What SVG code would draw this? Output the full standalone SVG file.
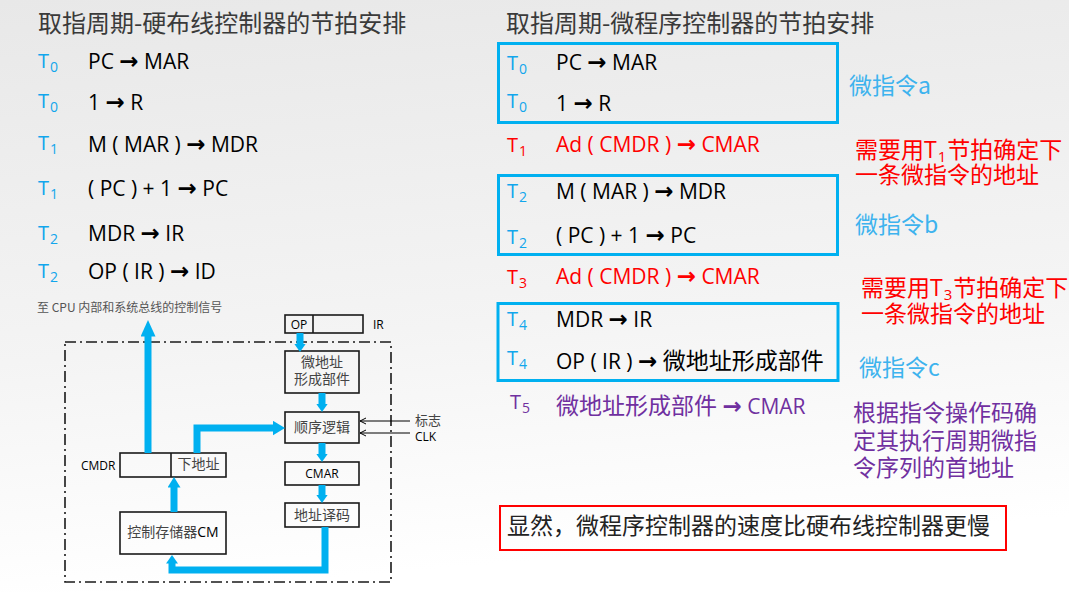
<svg xmlns="http://www.w3.org/2000/svg" width="1069" height="592" viewBox="0 0 1069 592">
<defs>
<linearGradient id="bg" x1="0" y1="0" x2="0.15" y2="1">
<stop offset="0" stop-color="#e8e8e8"/>
<stop offset="0.6" stop-color="#f4f4f4"/>
<stop offset="1" stop-color="#ffffff"/>
</linearGradient>
<marker id="hS" markerUnits="userSpaceOnUse" markerWidth="9" markerHeight="12" refX="0.5" refY="6" orient="auto">
<path d="M0,0 L8.5,6 L0,12 Z" fill="#00B0F0"/>
</marker>
<marker id="hM" markerUnits="userSpaceOnUse" markerWidth="11" markerHeight="13" refX="0.5" refY="6.5" orient="auto">
<path d="M0,0 L10.5,6.5 L0,13 Z" fill="#00B0F0"/>
</marker>
<marker id="hL" markerUnits="userSpaceOnUse" markerWidth="13" markerHeight="15" refX="0.5" refY="7.5" orient="auto">
<path d="M0,0 L12.5,7.5 L0,15 Z" fill="#00B0F0"/>
</marker>
<marker id="hB" markerUnits="userSpaceOnUse" markerWidth="17" markerHeight="15" refX="0.5" refY="7.5" orient="auto">
<path d="M0,0 L16.5,7.5 L0,15 Z" fill="#00B0F0"/>
</marker>
<marker id="hT" markerUnits="userSpaceOnUse" markerWidth="8" markerHeight="8" refX="6" refY="4" orient="auto">
<path d="M0,1 L6,4 L0,7" fill="none" stroke="#000" stroke-width="1"/>
</marker>
<style>
.title{font-family:"Noto Sans CJK SC",sans-serif;font-size:24px;fill:#3a3a3a}
.lt{font-family:"Open Sans","Noto Sans CJK SC",sans-serif;font-size:21px;fill:#000}
.tl{font-family:"Open Sans",sans-serif;font-size:20px;fill:#12A6EC}
.sub{font-size:14px}
.ar{font-family:"DejaVu Sans",sans-serif;font-weight:bold;font-size:23px}
.cj{font-family:"Noto Sans CJK SC",sans-serif;font-size:23px}
.red{fill:#FF0000}
.pur{fill:#7030A0}
.note{font-family:"Noto Sans CJK SC","Open Sans",sans-serif;font-size:23px}
.mi{fill:#3DB3EE}
.bbox{fill:none;stroke:#00B0F0;stroke-width:3}
.box{fill:none;stroke:#1a1a1a;stroke-width:1.6}
.bt{font-family:"Noto Sans CJK SC",sans-serif;font-size:14px;fill:#444;text-anchor:middle}
.bl{font-family:"Open Sans",sans-serif;font-size:12px;fill:#000}
.flow{fill:none;stroke:#00B0F0;stroke-width:7;stroke-linejoin:miter}
.thin{fill:none;stroke:#000;stroke-width:1}
</style>
</defs>
<rect x="0" y="0" width="1069" height="592" fill="url(#bg)"/>

<!-- titles -->
<text class="title" x="38" y="32">取指周期-硬布线控制器的节拍安排</text>
<text class="title" x="506" y="32">取指周期-微程序控制器的节拍安排</text>

<!-- left schedule -->
<g id="left-schedule">
<text class="tl" x="38" y="68">T<tspan class="sub" dx="1" dy="4">0</tspan></text>
<text class="lt" x="88" y="69">PC <tspan class="ar">→</tspan> MAR</text>
<text class="tl" x="38" y="108">T<tspan class="sub" dx="1" dy="4">0</tspan></text>
<text class="lt" x="88" y="110">1 <tspan class="ar">→</tspan> R</text>
<text class="tl" x="38" y="150">T<tspan class="sub" dx="1" dy="4">1</tspan></text>
<text class="lt" x="88" y="152">M ( MAR ) <tspan class="ar">→</tspan> MDR</text>
<text class="tl" x="38" y="195">T<tspan class="sub" dx="1" dy="4">1</tspan></text>
<text class="lt" x="88" y="196">( PC ) + 1 <tspan class="ar">→</tspan> PC</text>
<text class="tl" x="38" y="240">T<tspan class="sub" dx="1" dy="4">2</tspan></text>
<text class="lt" x="88" y="241">MDR <tspan class="ar">→</tspan> IR</text>
<text class="tl" x="38" y="278">T<tspan class="sub" dx="1" dy="4">2</tspan></text>
<text class="lt" x="88" y="279">OP ( IR ) <tspan class="ar">→</tspan> ID</text>
</g>

<!-- right schedule -->
<g id="right-schedule">
<rect id="micro-a" class="bbox" x="498.5" y="43.5" width="339" height="79"/>
<text class="tl" x="507" y="70">T<tspan class="sub" dx="1" dy="4">0</tspan></text>
<text class="lt" x="556" y="70">PC <tspan class="ar">→</tspan> MAR</text>
<text class="tl" x="507" y="108">T<tspan class="sub" dx="1" dy="4">0</tspan></text>
<text class="lt" x="556" y="111">1 <tspan class="ar">→</tspan> R</text>

<text class="tl red" x="507" y="152">T<tspan class="sub" dx="1" dy="4">1</tspan></text>
<text class="lt red" x="556" y="152">Ad ( CMDR ) <tspan class="ar">→</tspan> CMAR</text>

<rect id="micro-b" class="bbox" x="498.5" y="175.5" width="339" height="79"/>
<text class="tl" x="507" y="198">T<tspan class="sub" dx="1" dy="4">2</tspan></text>
<text class="lt" x="556" y="199">M ( MAR ) <tspan class="ar">→</tspan> MDR</text>
<text class="tl" x="507" y="244">T<tspan class="sub" dx="1" dy="4">2</tspan></text>
<text class="lt" x="556" y="243">( PC ) + 1 <tspan class="ar">→</tspan> PC</text>

<text class="tl red" x="507" y="284">T<tspan class="sub" dx="1" dy="4">3</tspan></text>
<text class="lt red" x="556" y="284">Ad ( CMDR ) <tspan class="ar">→</tspan> CMAR</text>

<rect id="micro-c" class="bbox" x="498" y="303.5" width="340" height="77"/>
<text class="tl" x="507" y="326">T<tspan class="sub" dx="1" dy="4">4</tspan></text>
<text class="lt" x="556" y="327">MDR <tspan class="ar">→</tspan> IR</text>
<text class="tl" x="507" y="365">T<tspan class="sub" dx="1" dy="4">4</tspan></text>
<text class="lt" x="556" y="369">OP ( IR ) <tspan class="ar">→</tspan> <tspan class="cj">微地址形成部件</tspan></text>

<text class="tl pur" x="510" y="409">T<tspan class="sub" dx="1" dy="4">5</tspan></text>
<text class="lt pur" x="556" y="414"><tspan class="cj">微地址形成部件</tspan> <tspan class="ar">→</tspan> CMAR</text>
</g>

<!-- right annotations -->
<g id="annotations">
<text class="note mi" x="849" y="94">微指令a</text>
<text class="note red" x="855" y="158">需要用<tspan font-family="Open Sans">T</tspan><tspan font-family="Open Sans" font-size="15" dx="1" dy="4">1</tspan><tspan dx="1" dy="-4">节拍确定下</tspan></text>
<text class="note red" x="855" y="183">一条微指令的地址</text>
<text class="note mi" x="855" y="233">微指令b</text>
<text class="note red" x="861" y="296">需要用<tspan font-family="Open Sans">T</tspan><tspan font-family="Open Sans" font-size="15" dx="1" dy="4">3</tspan><tspan dx="1" dy="-4">节拍确定下</tspan></text>
<text class="note red" x="861" y="322">一条微指令的地址</text>
<text class="note mi" x="859" y="376">微指令c</text>
<text class="note pur" x="853" y="421">根据指令操作码确</text>
<text class="note pur" x="853" y="449">定其执行周期微指</text>
<text class="note pur" x="853" y="476">令序列的首地址</text>
</g>

<g id="conclusion">
<rect x="500" y="506" width="506" height="44" fill="none" stroke="#FF0000" stroke-width="2"/>
<text class="note" x="507" y="534" fill="#222">显然，微程序控制器的速度比硬布线控制器更慢</text>
</g>

<!-- control unit diagram -->
<text x="37" y="312" font-family="Noto Sans CJK SC,sans-serif" font-size="12" fill="#555">至 CPU 内部和系统总线的控制信号</text>
<rect id="cu-boundary" x="65" y="342" width="326" height="240" fill="none" stroke="#1a1a1a" stroke-width="1.6" stroke-dasharray="11 4 2 4"/>

<g id="ir">
<rect class="box" x="285" y="315" width="78" height="18"/>
<line class="box" x1="313" y1="315" x2="313" y2="333"/>
<text class="bl" x="299" y="329" text-anchor="middle">OP</text>
<text class="bl" x="373" y="329">IR</text>
</g>
<g id="micro-addr-gen">
<rect class="box" x="285" y="351" width="74" height="42"/>
<text class="bt" x="322" y="367">微地址</text>
<text class="bt" x="322" y="384">形成部件</text>
</g>
<g id="seq-logic">
<rect class="box" x="285" y="412" width="74" height="31"/>
<text class="bt" x="322" y="432">顺序逻辑</text>
</g>
<g id="cmar">
<rect class="box" x="285" y="462" width="74" height="23"/>
<text class="bl" x="322" y="478" text-anchor="middle">CMAR</text>
</g>
<g id="addr-decode">
<rect class="box" x="285" y="503" width="74" height="24"/>
<text class="bt" x="322" y="520">地址译码</text>
</g>
<g id="cmdr">
<rect class="box" x="120" y="453" width="106" height="24"/>
<line class="box" x1="171" y1="453" x2="171" y2="477"/>
<text class="bt" x="198.5" y="469" font-size="13">下地址</text>
<text class="bl" x="81" y="470">CMDR</text>
</g>
<g id="cm">
<rect class="box" x="120" y="512" width="106" height="42"/>
<text class="bt" x="173" y="537">控制存储器<tspan font-family="Open Sans" fill="#000">CM</tspan></text>
</g>
<g id="inputs">
<text x="415" y="425" font-family="Noto Sans CJK SC,sans-serif" font-size="13" fill="#444">标志</text>
<text class="bl" x="415" y="441">CLK</text>
</g>

<g id="connectors">
<line class="flow" x1="300" y1="333" x2="300" y2="344" marker-end="url(#hS)"/>
<line class="flow" x1="322" y1="393" x2="322" y2="404" marker-end="url(#hS)"/>
<line class="flow" x1="322" y1="443" x2="322" y2="454" marker-end="url(#hS)"/>
<line class="flow" x1="322" y1="485" x2="322" y2="495" marker-end="url(#hS)"/>
<path class="flow" d="M325,527 V570 H172 V563" marker-end="url(#hS)"/>
<line class="flow" x1="174" y1="512" x2="174" y2="487" marker-end="url(#hM)"/>
<line class="flow" x1="148" y1="453" x2="148" y2="336" marker-end="url(#hB)"/>
<path class="flow" d="M197,453 V428 H273" marker-end="url(#hL)"/>
<line class="thin" x1="410" y1="421" x2="360" y2="421" marker-end="url(#hT)"/>
<line class="thin" x1="410" y1="433" x2="360" y2="433" marker-end="url(#hT)"/>
</g>
</svg>
